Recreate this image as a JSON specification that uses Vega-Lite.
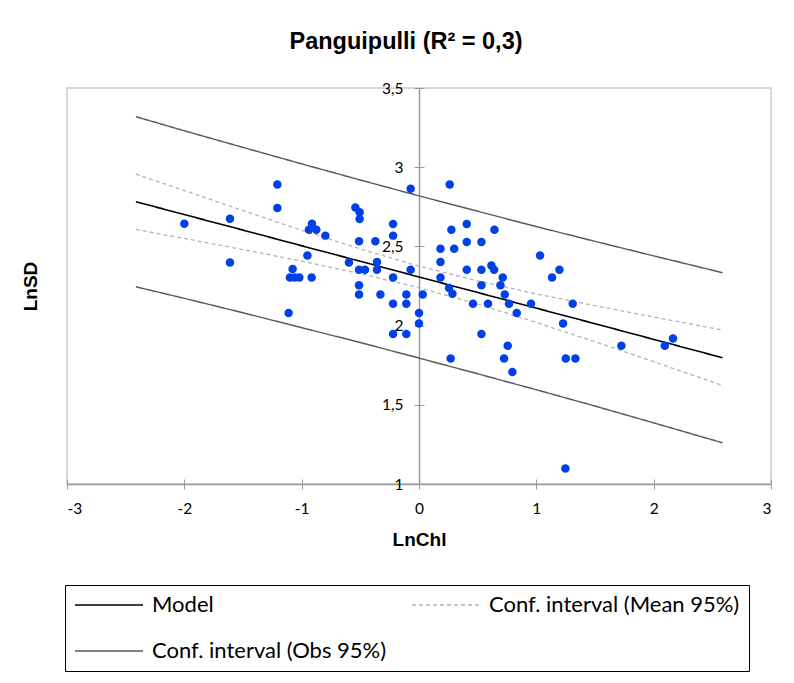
{
  "$schema": "https://vega.github.io/schema/vega-lite/v6.json",
  "width": 704,
  "height": 396,
  "autosize": {"type": "none"},
  "padding": {"left": 67, "top": 88, "right": 23, "bottom": 199},
  "background": "white",
  "title": {
    "text": "Panguipulli (R² = 0,3)",
    "font": "Liberation Sans",
    "fontSize": 23.5,
    "fontWeight": "bold",
    "color": "black",
    "anchor": "middle",
    "dx": -13,
    "offset": 36,
    "dy": 27,
    "baseline": "alphabetic"
  },
  "config": {
    "view": {"stroke": "#cccccc", "strokeWidth": 1.5},
    "axis": {
      "grid": false,
      "domainColor": "#9a9a9a",
      "domainWidth": 1.5,
      "tickColor": "#9a9a9a",
      "tickWidth": 1,
      "tickSize": 5,
      "labelFont": "Lato",
      "labelFontSize": 15.5,
      "labelColor": "black",
      "titleFont": "Liberation Sans",
      "titleFontSize": 19,
      "titleFontWeight": "bold",
      "titleColor": "black"
    },
    "legend": {
      "orient": "none",
      "legendX": -2,
      "legendY": 497,
      "columns": 2,
      "symbolType": "M-1,0H5.8",
      "symbolSize": 400,
      "labelFont": "Lato",
      "labelFontSize": 22,
      "labelColor": "black",
      "labelOffset": 56,
      "strokeColor": "black",
      "padding": 9,
      "columnPadding": 22,
      "rowPadding": 24,
      "labelLimit": 400
    }
  },
  "datasets": {
    "obs": [
      {"lnchl": -2.0, "lnsd": 2.643}, {"lnchl": -1.611, "lnsd": 2.675}, {"lnchl": -1.611, "lnsd": 2.399},
      {"lnchl": -1.207, "lnsd": 2.891}, {"lnchl": -1.207, "lnsd": 2.742}, {"lnchl": -0.912, "lnsd": 2.643},
      {"lnchl": -0.938, "lnsd": 2.605}, {"lnchl": -0.875, "lnsd": 2.605}, {"lnchl": -0.798, "lnsd": 2.568},
      {"lnchl": -0.951, "lnsd": 2.443}, {"lnchl": -1.077, "lnsd": 2.357}, {"lnchl": -1.1, "lnsd": 2.304},
      {"lnchl": -1.06, "lnsd": 2.304}, {"lnchl": -1.02, "lnsd": 2.304}, {"lnchl": -0.915, "lnsd": 2.304},
      {"lnchl": -1.111, "lnsd": 2.08}, {"lnchl": -0.597, "lnsd": 2.399}, {"lnchl": -0.071, "lnsd": 2.864},
      {"lnchl": 0.262, "lnsd": 2.891}, {"lnchl": -0.542, "lnsd": 2.746}, {"lnchl": -0.506, "lnsd": 2.715},
      {"lnchl": -0.506, "lnsd": 2.673}, {"lnchl": -0.221, "lnsd": 2.641}, {"lnchl": -0.221, "lnsd": 2.568},
      {"lnchl": -0.511, "lnsd": 2.532}, {"lnchl": -0.372, "lnsd": 2.532}, {"lnchl": -0.358, "lnsd": 2.401},
      {"lnchl": -0.511, "lnsd": 2.353}, {"lnchl": -0.46, "lnsd": 2.353}, {"lnchl": -0.358, "lnsd": 2.353},
      {"lnchl": -0.071, "lnsd": 2.353}, {"lnchl": -0.221, "lnsd": 2.304}, {"lnchl": -0.511, "lnsd": 2.254},
      {"lnchl": -0.511, "lnsd": 2.197}, {"lnchl": -0.329, "lnsd": 2.197}, {"lnchl": -0.108, "lnsd": 2.197},
      {"lnchl": 0.032, "lnsd": 2.197}, {"lnchl": -0.221, "lnsd": 2.138}, {"lnchl": -0.108, "lnsd": 2.138},
      {"lnchl": 0.0, "lnsd": 2.08}, {"lnchl": 0.0, "lnsd": 2.014}, {"lnchl": -0.221, "lnsd": 1.947},
      {"lnchl": -0.108, "lnsd": 1.947}, {"lnchl": 0.27, "lnsd": 1.793}, {"lnchl": 0.276, "lnsd": 2.605},
      {"lnchl": 0.3, "lnsd": 2.485}, {"lnchl": 0.183, "lnsd": 2.485}, {"lnchl": 0.183, "lnsd": 2.401},
      {"lnchl": 0.183, "lnsd": 2.304}, {"lnchl": 0.256, "lnsd": 2.237}, {"lnchl": 0.285, "lnsd": 2.201},
      {"lnchl": 0.407, "lnsd": 2.641}, {"lnchl": 0.643, "lnsd": 2.605}, {"lnchl": 0.407, "lnsd": 2.528},
      {"lnchl": 0.532, "lnsd": 2.528}, {"lnchl": 0.407, "lnsd": 2.353}, {"lnchl": 0.532, "lnsd": 2.353},
      {"lnchl": 0.617, "lnsd": 2.38}, {"lnchl": 0.64, "lnsd": 2.353}, {"lnchl": 0.714, "lnsd": 2.304},
      {"lnchl": 1.032, "lnsd": 2.443}, {"lnchl": 1.197, "lnsd": 2.353}, {"lnchl": 1.134, "lnsd": 2.304},
      {"lnchl": 0.532, "lnsd": 2.254}, {"lnchl": 0.694, "lnsd": 2.254}, {"lnchl": 0.731, "lnsd": 2.197},
      {"lnchl": 0.46, "lnsd": 2.138}, {"lnchl": 0.588, "lnsd": 2.138}, {"lnchl": 0.767, "lnsd": 2.138},
      {"lnchl": 0.955, "lnsd": 2.138}, {"lnchl": 1.31, "lnsd": 2.138}, {"lnchl": 0.833, "lnsd": 2.08},
      {"lnchl": 1.228, "lnsd": 2.014}, {"lnchl": 0.532, "lnsd": 1.947}, {"lnchl": 0.756, "lnsd": 1.873},
      {"lnchl": 0.725, "lnsd": 1.793}, {"lnchl": 1.251, "lnsd": 1.793}, {"lnchl": 1.333, "lnsd": 1.793},
      {"lnchl": 0.796, "lnsd": 1.707}, {"lnchl": 1.725, "lnsd": 1.873}, {"lnchl": 2.095, "lnsd": 1.873},
      {"lnchl": 2.165, "lnsd": 1.919}, {"lnchl": 1.248, "lnsd": 1.098}
    ],
    "fit": [
      {"lnchl": -2.413, "lnsd": 2.782, "series": "Model", "part": "m"},
      {"lnchl": -2.0, "lnsd": 2.701, "series": "Model", "part": "m"},
      {"lnchl": -1.5, "lnsd": 2.603, "series": "Model", "part": "m"},
      {"lnchl": -1.0, "lnsd": 2.504, "series": "Model", "part": "m"},
      {"lnchl": -0.5, "lnsd": 2.406, "series": "Model", "part": "m"},
      {"lnchl": 0.0, "lnsd": 2.307, "series": "Model", "part": "m"},
      {"lnchl": 0.5, "lnsd": 2.209, "series": "Model", "part": "m"},
      {"lnchl": 1.0, "lnsd": 2.11, "series": "Model", "part": "m"},
      {"lnchl": 1.5, "lnsd": 2.012, "series": "Model", "part": "m"},
      {"lnchl": 2.0, "lnsd": 1.913, "series": "Model", "part": "m"},
      {"lnchl": 2.587, "lnsd": 1.797, "series": "Model", "part": "m"},

      {"lnchl": -2.413, "lnsd": 2.607, "series": "Conf. interval (Mean 95%)", "part": "mlo"},
      {"lnchl": -2.0, "lnsd": 2.55, "series": "Conf. interval (Mean 95%)", "part": "mlo"},
      {"lnchl": -1.5, "lnsd": 2.48, "series": "Conf. interval (Mean 95%)", "part": "mlo"},
      {"lnchl": -1.0, "lnsd": 2.407, "series": "Conf. interval (Mean 95%)", "part": "mlo"},
      {"lnchl": -0.5, "lnsd": 2.328, "series": "Conf. interval (Mean 95%)", "part": "mlo"},
      {"lnchl": 0.0, "lnsd": 2.239, "series": "Conf. interval (Mean 95%)", "part": "mlo"},
      {"lnchl": 0.5, "lnsd": 2.136, "series": "Conf. interval (Mean 95%)", "part": "mlo"},
      {"lnchl": 1.0, "lnsd": 2.02, "series": "Conf. interval (Mean 95%)", "part": "mlo"},
      {"lnchl": 1.5, "lnsd": 1.898, "series": "Conf. interval (Mean 95%)", "part": "mlo"},
      {"lnchl": 2.0, "lnsd": 1.772, "series": "Conf. interval (Mean 95%)", "part": "mlo"},
      {"lnchl": 2.587, "lnsd": 1.622, "series": "Conf. interval (Mean 95%)", "part": "mlo"},

      {"lnchl": -2.413, "lnsd": 2.957, "series": "Conf. interval (Mean 95%)", "part": "mhi"},
      {"lnchl": -2.0, "lnsd": 2.852, "series": "Conf. interval (Mean 95%)", "part": "mhi"},
      {"lnchl": -1.5, "lnsd": 2.726, "series": "Conf. interval (Mean 95%)", "part": "mhi"},
      {"lnchl": -1.0, "lnsd": 2.602, "series": "Conf. interval (Mean 95%)", "part": "mhi"},
      {"lnchl": -0.5, "lnsd": 2.484, "series": "Conf. interval (Mean 95%)", "part": "mhi"},
      {"lnchl": 0.0, "lnsd": 2.375, "series": "Conf. interval (Mean 95%)", "part": "mhi"},
      {"lnchl": 0.5, "lnsd": 2.282, "series": "Conf. interval (Mean 95%)", "part": "mhi"},
      {"lnchl": 1.0, "lnsd": 2.2, "series": "Conf. interval (Mean 95%)", "part": "mhi"},
      {"lnchl": 1.5, "lnsd": 2.126, "series": "Conf. interval (Mean 95%)", "part": "mhi"},
      {"lnchl": 2.0, "lnsd": 2.054, "series": "Conf. interval (Mean 95%)", "part": "mhi"},
      {"lnchl": 2.587, "lnsd": 1.972, "series": "Conf. interval (Mean 95%)", "part": "mhi"},

      {"lnchl": -2.413, "lnsd": 2.245, "series": "Conf. interval (Obs 95%)", "part": "olo"},
      {"lnchl": -2.0, "lnsd": 2.172, "series": "Conf. interval (Obs 95%)", "part": "olo"},
      {"lnchl": -1.5, "lnsd": 2.081, "series": "Conf. interval (Obs 95%)", "part": "olo"},
      {"lnchl": -1.0, "lnsd": 1.987, "series": "Conf. interval (Obs 95%)", "part": "olo"},
      {"lnchl": -0.5, "lnsd": 1.893, "series": "Conf. interval (Obs 95%)", "part": "olo"},
      {"lnchl": 0.0, "lnsd": 1.795, "series": "Conf. interval (Obs 95%)", "part": "olo"},
      {"lnchl": 0.5, "lnsd": 1.696, "series": "Conf. interval (Obs 95%)", "part": "olo"},
      {"lnchl": 1.0, "lnsd": 1.595, "series": "Conf. interval (Obs 95%)", "part": "olo"},
      {"lnchl": 1.5, "lnsd": 1.492, "series": "Conf. interval (Obs 95%)", "part": "olo"},
      {"lnchl": 2.0, "lnsd": 1.386, "series": "Conf. interval (Obs 95%)", "part": "olo"},
      {"lnchl": 2.587, "lnsd": 1.26, "series": "Conf. interval (Obs 95%)", "part": "olo"},

      {"lnchl": -2.413, "lnsd": 3.319, "series": "Conf. interval (Obs 95%)", "part": "ohi"},
      {"lnchl": -2.0, "lnsd": 3.23, "series": "Conf. interval (Obs 95%)", "part": "ohi"},
      {"lnchl": -1.5, "lnsd": 3.125, "series": "Conf. interval (Obs 95%)", "part": "ohi"},
      {"lnchl": -1.0, "lnsd": 3.021, "series": "Conf. interval (Obs 95%)", "part": "ohi"},
      {"lnchl": -0.5, "lnsd": 2.919, "series": "Conf. interval (Obs 95%)", "part": "ohi"},
      {"lnchl": 0.0, "lnsd": 2.819, "series": "Conf. interval (Obs 95%)", "part": "ohi"},
      {"lnchl": 0.5, "lnsd": 2.722, "series": "Conf. interval (Obs 95%)", "part": "ohi"},
      {"lnchl": 1.0, "lnsd": 2.625, "series": "Conf. interval (Obs 95%)", "part": "ohi"},
      {"lnchl": 1.5, "lnsd": 2.532, "series": "Conf. interval (Obs 95%)", "part": "ohi"},
      {"lnchl": 2.0, "lnsd": 2.44, "series": "Conf. interval (Obs 95%)", "part": "ohi"},
      {"lnchl": 2.587, "lnsd": 2.334, "series": "Conf. interval (Obs 95%)", "part": "ohi"}
    ]
  },
  "resolve": {"axis": {"x": "independent", "y": "independent"}},
  "layer": [
    {
      "data": {"name": "fit"},
      "mark": {"type": "line"},
      "encoding": {
        "x": {
          "field": "lnchl", "type": "quantitative",
          "scale": {"domain": [-3, 3], "nice": false, "zero": false},
          "axis": {
            "orient": "bottom",
            "values": [-3, -2, -1, 0, 1, 2, 3],
            "labelPadding": 12,
            "labelExpr": "datum.value < 0 ? '-' + abs(datum.value) : '' + datum.value",
            "title": "LnChl",
            "titleX": 352,
            "titleY": 55,
            "titleBaseline": "middle"
          }
        },
        "y": {
          "field": "lnsd", "type": "quantitative",
          "scale": {"domain": [1, 3.5], "nice": false, "zero": false},
          "axis": {
            "orient": "left",
            "offset": -352,
            "values": [1, 1.5, 2, 2.5, 3, 3.5],
            "labelPadding": 11,
            "labelExpr": "replace('' + datum.value, '.', ',')",
            "title": "LnSD",
            "titleX": -389,
            "titleY": 198,
            "titleAngle": -90,
            "titleBaseline": "middle"
          }
        },
        "color": {
          "field": "series", "type": "nominal", "title": null,
          "scale": {
            "domain": ["Model", "Conf. interval (Obs 95%)", "Conf. interval (Mean 95%)"],
            "range": ["#000000", "#5a5a5a", "#b4b4b4"]
          }
        },
        "strokeDash": {
          "field": "series", "type": "nominal", "title": null,
          "scale": {
            "domain": ["Model", "Conf. interval (Obs 95%)", "Conf. interval (Mean 95%)"],
            "range": [[1, 0], [1, 0], [4, 3]]
          }
        },
        "strokeWidth": {
          "field": "series", "type": "nominal", "title": null,
          "scale": {
            "domain": ["Model", "Conf. interval (Obs 95%)", "Conf. interval (Mean 95%)"],
            "range": [1.6, 1.3, 1.1]
          }
        },
        "detail": {"field": "part", "type": "nominal"}
      }
    },
    {
      "data": {"name": "obs"},
      "mark": {"type": "circle", "size": 72, "color": "#0041e6", "opacity": 1},
      "encoding": {
        "x": {
          "field": "lnchl", "type": "quantitative",
          "axis": {"orient": "top", "offset": -396, "values": [-3, -2, -1, 0, 1, 2, 3], "labels": false, "domain": false, "title": null}
        },
        "y": {
          "field": "lnsd", "type": "quantitative",
          "axis": {"orient": "right", "offset": -352, "values": [1, 1.5, 2, 2.5, 3, 3.5], "labels": false, "domain": false, "title": null}
        }
      }
    }
  ]
}
